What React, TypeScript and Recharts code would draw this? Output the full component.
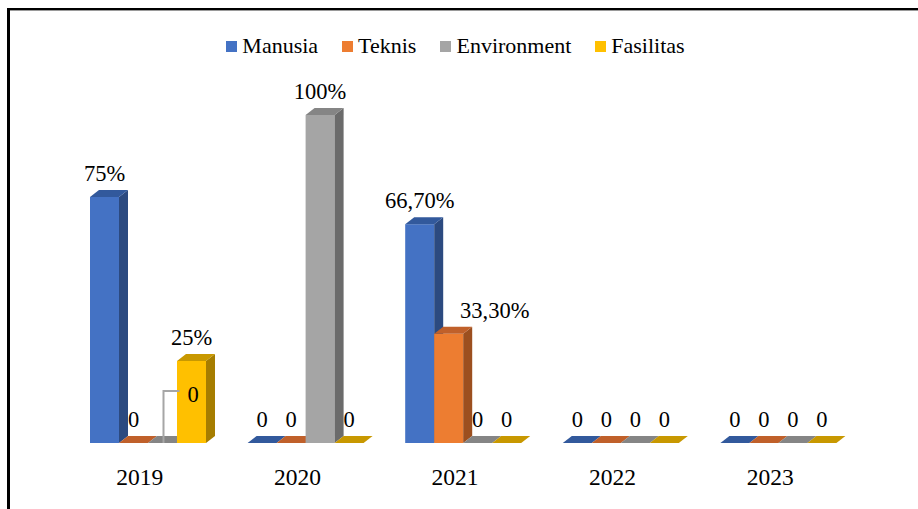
import { BarChart, Bar, XAxis, YAxis, LabelList } from 'recharts';

const YEARS = ['2019', '2020', '2021', '2022', '2023'];
const MANUSIA = [75, 0, 66.7, 0, 0];
const TEKNIS = [0, 0, 33.3, 0, 0];
const ENVIRONMENT = [0, 100, 0, 0, 0];
const FASILITAS = [25, 0, 0, 0, 0];

const SERIES_NAMES = ['Manusia', 'Teknis', 'Environment', 'Fasilitas'];
const SERIES_VALUES = [MANUSIA, TEKNIS, ENVIRONMENT, FASILITAS];

// front / top / side shades for the fake 3D look
const COLORS: Record<string, { front: string; top: string; side: string }> = {
  Manusia: { front: '#4472C4', top: '#32599c', side: '#2c4a80' },
  Teknis: { front: '#ED7D31', top: '#c0602a', side: '#9c4f1f' },
  Environment: { front: '#A5A5A5', top: '#858585', side: '#6b6b6b' },
  Fasilitas: { front: '#FFC000', top: '#c89800', side: '#a67d00' },
};

const FONT = '"Liberation Serif", "DejaVu Serif", serif';
const DX = 9;
const DY = 7;

const chartData = YEARS.map((year, i) => {
  const row: Record<string, any> = { year };
  SERIES_NAMES.forEach((name, s) => {
    row[name] = SERIES_VALUES[s][i];
  });
  return row;
});

const fmt = (v: number) => {
  if (v === 0) return '0';
  if (Number.isInteger(v)) return `${v}%`;
  return `${v.toFixed(2).replace('.', ',')}%`;
};

function Bar3D(props: any) {
  const { x, y, width, height, colors } = props;
  if (x == null || y == null) return null;
  const h = Math.max(0, height || 0);
  const w = width;
  const top = `${x},${y} ${x + DX},${y - DY} ${x + w + DX},${y - DY} ${x + w},${y}`;
  const side = `${x + w},${y} ${x + w + DX},${y - DY} ${x + w + DX},${y + h - DY} ${x + w},${y + h}`;
  return (
    <g>
      {h > 0 && <rect x={x} y={y} width={w} height={h} fill={colors.front} />}
      {h > 0 && <polygon points={side} fill={colors.side} />}
      <polygon points={top} fill={colors.top} />
    </g>
  );
}

function ValueLabel(props: any) {
  const { series, index, value } = props;
  const vb = props.viewBox || {};
  const x = props.x ?? vb.x;
  const y = props.y ?? vb.y;
  const width = props.width ?? vb.width;
  if (x == null || y == null) return null;
  const cx = x + width / 2;
  const text = fmt(Number(value));
  // the 2019 Environment label is pulled out with a leader line
  if (series === 'Environment' && index === 0) {
    return (
      <g>
        <polyline
          points={`${cx + 1},${y} ${cx + 1},${y - 52} ${cx + 17},${y - 52}`}
          fill="none"
          stroke="#a6a6a6"
          strokeWidth={2}
        />
        <text x={cx + 30.5} y={y - 41} textAnchor="middle" fontFamily={FONT} fontSize={22.5} fill="#000">
          {text}
        </text>
      </g>
    );
  }
  // 2021 Teknis label sits to the right of its bar
  const shift = series === 'Teknis' && index === 2 ? 46 : 0;
  return (
    <text x={cx + shift} y={y - 16} textAnchor="middle" fontFamily={FONT} fontSize={22.5} fill="#000">
      {text}
    </text>
  );
}

function YearTick(props: any) {
  const { x, y, payload } = props;
  return (
    <text x={x - 8} y={y + 34} textAnchor="middle" fontFamily={FONT} fontSize={23.5} fill="#000">
      {payload.value}
    </text>
  );
}

function Legend3D() {
  return (
    <div
      style={{
        position: 'absolute',
        top: 33,
        left: 0,
        width: 911,
        display: 'flex',
        justifyContent: 'center',
        gap: 24,
        fontFamily: FONT,
        fontSize: 22,
        lineHeight: '26px',
        color: '#000',
      }}
    >
      {SERIES_NAMES.map(name => (
        <div key={name} style={{ display: 'flex', alignItems: 'center' }}>
          <span style={{ width: 11, height: 11, background: COLORS[name].front, marginRight: 5 }} />
          <span>{name}</span>
        </div>
      ))}
    </div>
  );
}

export default function App() {
  return (
    <div style={{ position: 'fixed', left: 0, top: 0, width: 918, height: 509, background: '#fff', overflow: 'hidden' }}>
      <div
        style={{
          position: 'absolute',
          left: 7,
          top: 8,
          width: 920,
          height: 510,
          borderTop: '2px solid #000',
          borderLeft: '3px solid #000',
          boxShadow: 'inset 0 1px 0 #9a9a9a',
          boxSizing: 'border-box',
        }}
      />
      <Legend3D />
      <div style={{ position: 'absolute', left: 0, top: 0 }}>
        <BarChart
          width={918}
          height={509}
          data={chartData}
          margin={{ top: 115, right: 61, left: 69, bottom: 36 }}
          barSize={29}
          barGap={0}
        >
          <XAxis
            dataKey="year"
            axisLine={false}
            tickLine={false}
            height={30}
            interval={0}
            tick={<YearTick />}
          />
          <YAxis hide domain={[0, 100]} />
          {SERIES_NAMES.map(name => (
            <Bar
              key={name}
              dataKey={name}
              isAnimationActive={false}
              shape={(p: any) => <Bar3D {...p} colors={COLORS[name]} />}
            >
              <LabelList
                dataKey={name}
                content={(p: any) => <ValueLabel {...p} series={name} />}
              />
            </Bar>
          ))}
        </BarChart>
      </div>
    </div>
  );
}
